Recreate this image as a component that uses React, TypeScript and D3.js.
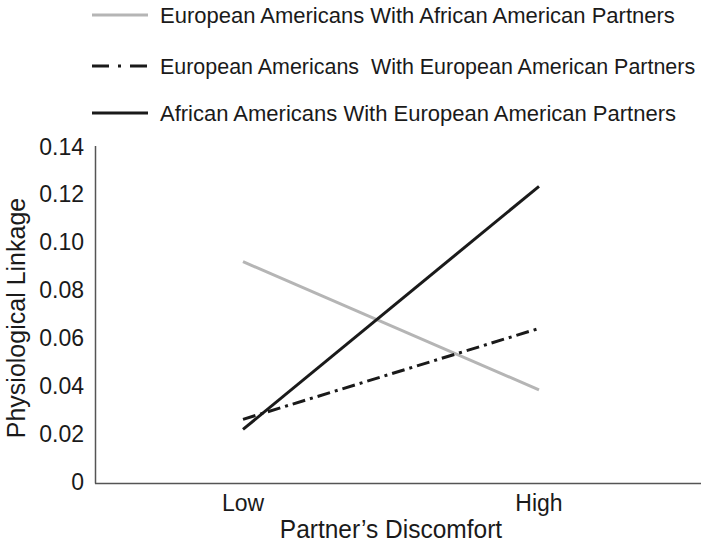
import React from "react";
import * as d3 from "d3";

const categories = ["Low", "High"];
const seriesNames = [
  "European Americans With African American Partners",
  "European Americans  With European American Partners",
  "African Americans With European American Partners",
];
const euroWithAfrican = [0.0925, 0.0389];
const euroWithEuro = [0.0266, 0.0646];
const africanWithEuro = [0.0224, 0.124];
const yTicks = [0, 0.02, 0.04, 0.06, 0.08, 0.1, 0.12, 0.14];
const yTickLabels = ["0", "0.02", "0.04", "0.06", "0.08", "0.10", "0.12", "0.14"];

const FONT = "'Liberation Sans', Arial, sans-serif";

function CText({ x, y, size, sx = 1, anchor = "start", children, rotate = 0 }: any) {
  return (
    <g transform={`translate(${x},${y}) rotate(${rotate}) scale(${sx},1)`}>
      <text x={0} y={0} dy="0.35em" fontSize={size} textAnchor={anchor} fill="#1a1a1a" style={{ whiteSpace: "pre" }}>
        {children}
      </text>
    </g>
  );
}

export default function App() {
  const W = 702, H = 544;
  const x = d3.scalePoint<string>().domain(categories).range([243, 539]);
  const y = d3.scaleLinear().domain([0, 0.14]).range([483, 148]);
  const line = d3
    .line<number>()
    .x((_, i) => x(categories[i]) as number)
    .y((d) => y(d));

  const series = [
    { name: seriesNames[0], values: euroWithAfrican, color: "#b5b5b5", dash: undefined as string | undefined, legDash: undefined as string | undefined, sx: 1 },
    { name: seriesNames[1], values: euroWithEuro, color: "#1a1a1a", dash: "13,5,3,5", legDash: "17,9,3,9", sx: 0.975 },
    { name: seriesNames[2], values: africanWithEuro, color: "#1a1a1a", dash: undefined, legDash: undefined, sx: 1 },
  ];
  const legendY = [15, 66, 113];

  return (
    <svg width={W} height={H} style={{ position: "absolute", left: 0, top: 0, background: "#fff" }} fontFamily={FONT}>
      {/* legend */}
      {series.map((s, i) => (
        <g key={s.name}>
          <line x1={92} x2={148} y1={legendY[i]} y2={legendY[i]} stroke={s.color} strokeWidth={3} strokeDasharray={s.legDash} />
          <CText x={160} y={legendY[i]} size={22} sx={s.sx}>{s.name}</CText>
        </g>
      ))}
      {/* axes */}
      <line x1={95.5} x2={95.5} y1={146} y2={483.5} stroke="#555" strokeWidth={1.5} />
      <line x1={95} x2={701} y1={483.5} y2={483.5} stroke="#555" strokeWidth={1.5} />
      {yTicks.map((t, i) => (
        <CText key={t} x={84} y={y(t) - 1.5} size={23} anchor="end">{yTickLabels[i]}</CText>
      ))}
      {categories.map((c) => (
        <CText key={c} x={x(c)} y={503} size={23} anchor="middle">{c}</CText>
      ))}
      <CText x={391} y={529} size={25} sx={0.98} anchor="middle">Partner’s Discomfort</CText>
      <CText x={16} y={318} size={25} anchor="middle" rotate={-90}>Physiological Linkage</CText>
      {/* lines */}
      {series.map((s) => (
        <path key={s.name} d={line(s.values) || ""} fill="none" stroke={s.color} strokeWidth={3} strokeDasharray={s.dash} />
      ))}
    </svg>
  );
}
